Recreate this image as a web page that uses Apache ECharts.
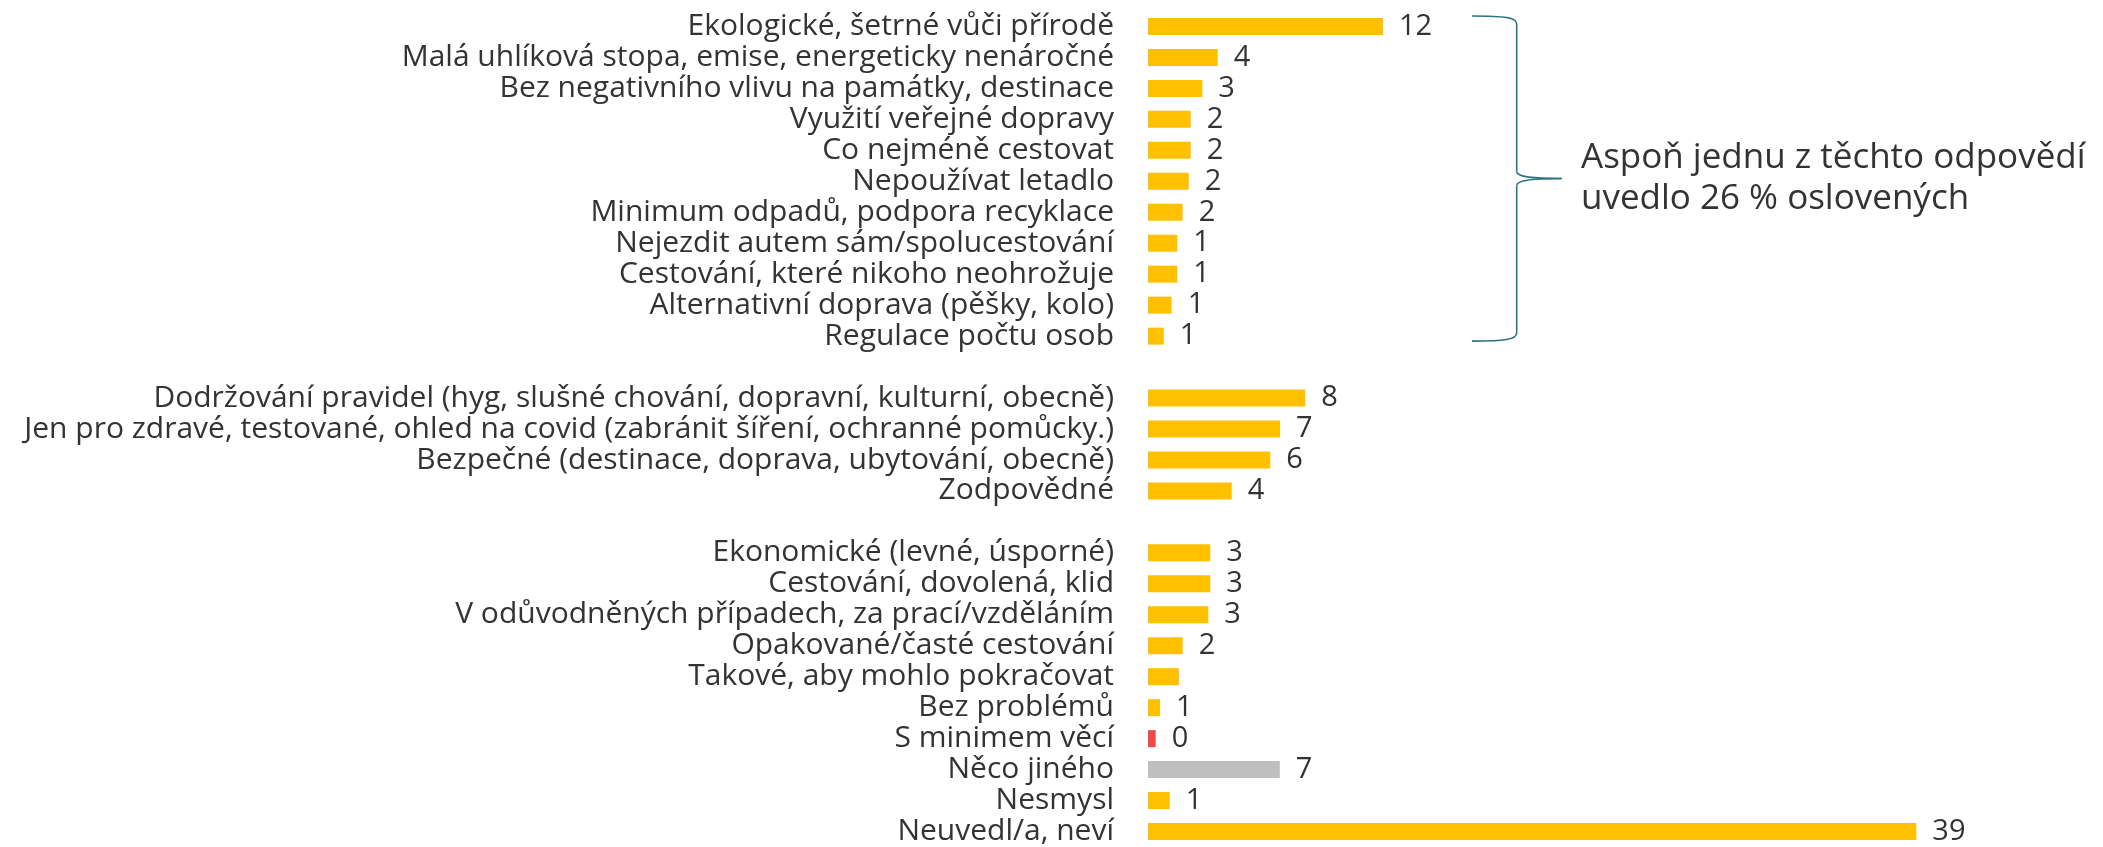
<!DOCTYPE html>
<html lang="cs">
<head>
    <meta charset="UTF-8">
    <title>Udržitelné cestování</title>
    <style>
        html, body { margin: 0; padding: 0; background: #fff; }
        #chart { width: 2103px; height: 847px; }
    </style>
</head>
<body>
<div id="chart"></div>
<script src="https://cdn.jsdelivr.net/npm/echarts@6/dist/echarts.min.js"></script>
<script>
    // kategorie (prázdné řádky oddělují skupiny)
    var categories = [
        'Ekologické, šetrné vůči přírodě',
        'Malá uhlíková stopa, emise, energeticky nenáročné',
        'Bez negativního vlivu na památky, destinace',
        'Využití veřejné dopravy',
        'Co nejméně cestovat',
        'Nepoužívat letadlo',
        'Minimum odpadů, podpora recyklace',
        'Nejezdit autem sám/spolucestování',
        'Cestování, které nikoho neohrožuje',
        'Alternativní doprava (pěšky, kolo)',
        'Regulace počtu osob',
        ' ',
        'Dodržování pravidel (hyg, slušné chování, dopravní, kulturní, obecně)',
        'Jen pro zdravé, testované, ohled na covid (zabránit šíření, ochranné pomůcky.)',
        'Bezpečné (destinace, doprava, ubytování, obecně)',
        'Zodpovědné',
        '  ',
        'Ekonomické (levné, úsporné)',
        'Cestování, dovolená, klid',
        'V odůvodněných případech, za prací/vzděláním',
        'Opakované/časté cestování',
        'Takové, aby mohlo pokračovat',
        'Bez problémů',
        'S minimem věcí',
        'Něco jiného',
        'Nesmysl',
        'Neuvedl/a, neví'
    ];
    // délky pruhů
    var barValues = [
        11.93, 3.54, 2.76, 2.17, 2.17, 2.07, 1.76, 1.49, 1.49, 1.20, 0.80,
        null,
        7.98, 6.70, 6.21, 4.25,
        null,
        3.16, 3.16, 3.06, 1.76, 1.57, 0.61, 0.39, 6.69, 1.10, 39
    ];
    // zobrazené popisky
    var labelValues = [
        12, 4, 3, 2, 2, 2, 2, 1, 1, 1, 1,
        null,
        8, 7, 6, 4,
        null,
        3, 3, 3, 2, null, 1, 0, 7, 1, 39
    ];
    var noteText = ['Aspoň jednu z těchto odpovědí', 'uvedlo 26 % oslovených'];

    var fontFamily = '"Open Sans", "Noto Sans", sans-serif',
        textColor = '#333333',
        barColor = '#FFC000',
        braceColor = '#2A7383',
        specialColors = { 'S minimem věcí': '#EF4B4B', 'Něco jiného': '#BFBFBF' };

    var seriesData = barValues.map(function (v, i) {
        return {
            value: v,
            label: { formatter: labelValues[i] == null ? '' : String(labelValues[i]) },
            itemStyle: { color: specialColors[categories[i]] || barColor }
        };
    });

    var option = {
        animation: false,
        backgroundColor: '#fff',
        textStyle: { fontFamily: fontFamily },
        grid: { left: 1148, top: 11, width: 886.5, height: 838, containLabel: false },
        xAxis: {
            type: 'value', min: 0, max: 45, show: false
        },
        yAxis: {
            type: 'category',
            inverse: true,
            data: categories,
            axisLine: { show: false },
            axisTick: { show: false },
            splitLine: { show: false },
            axisLabel: {
                interval: 0,
                margin: 34,
                fontSize: 30,
                color: textColor,
                fontFamily: fontFamily
            }
        },
        series: [{
            type: 'bar',
            data: seriesData,
            barWidth: 17,
            label: {
                show: true,
                position: 'right',
                distance: 16,
                fontSize: 29,
                color: textColor,
                fontFamily: fontFamily
            }
        }]
    };

    var chart = echarts.init(document.getElementById('chart'));
    chart.setOption(option);

    // složená závorka u první skupiny + poznámka
    var yFirst = chart.convertToPixel({ yAxisIndex: 0 }, categories[0]);
    var yLast = chart.convertToPixel({ yAxisIndex: 0 }, categories[10]);
    var yTop = yFirst - 10.5, yBottom = yLast + 5, yMid = (yTop + yBottom) / 2;
    var xl = 1472, xv = 1516.7, xt = 1561.7;

    function braceStyle() {
        return { stroke: braceColor, lineWidth: 1.6 };
    }
    function curve(x1, y1, c1x, c1y, c2x, c2y, x2, y2) {
        return {
            type: 'bezierCurve',
            shape: { x1: x1, y1: y1, cpx1: c1x, cpy1: c1y, cpx2: c2x, cpy2: c2y, x2: x2, y2: y2 },
            style: braceStyle()
        };
    }
    function line(x1, y1, x2, y2) {
        return { type: 'line', shape: { x1: x1, y1: y1, x2: x2, y2: y2 }, style: braceStyle() };
    }

    chart.setOption({
        graphic: [
            curve(xl, yTop, xl + 33, yTop, xv, yTop + 1.5, xv, yTop + 8),
            line(xv, yTop + 8, xv, yMid - 7),
            curve(xv, yMid - 7, xv, yMid - 2, xv + 13, yMid, xt, yMid),
            curve(xt, yMid, xv + 13, yMid, xv, yMid + 2, xv, yMid + 7),
            line(xv, yMid + 7, xv, yBottom - 8),
            curve(xv, yBottom - 8, xv, yBottom - 1.5, xl + 33, yBottom, xl, yBottom),
            {
                type: 'text',
                x: 1581,
                y: yMid,
                style: {
                    text: noteText.join('\n'),
                    font: '35px ' + fontFamily,
                    fill: textColor,
                    lineHeight: 41,
                    verticalAlign: 'middle'
                }
            }
        ]
    });
</script>
</body>
</html>
